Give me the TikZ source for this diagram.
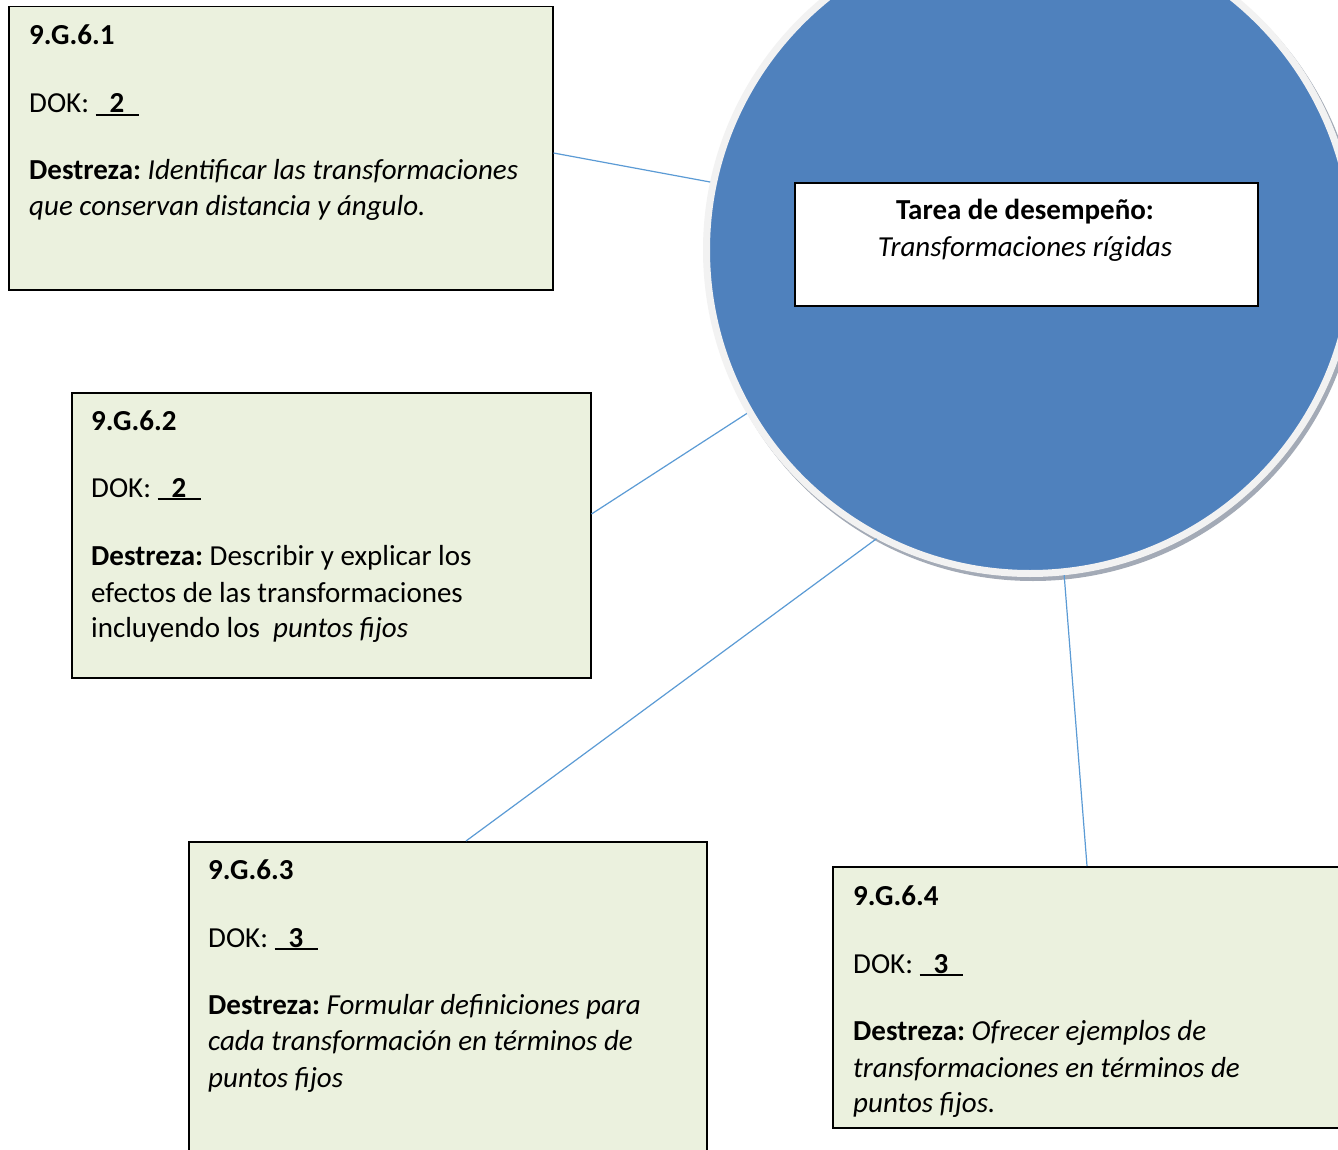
\documentclass[tikz,border=0pt]{standalone}
\usepackage{fontspec}
\setmainfont{Carlito}
\usetikzlibrary{calc}
\definecolor{boxfill}{HTML}{EBF1DE}
\definecolor{cblue}{HTML}{4F81BD}
\definecolor{ringcol}{HTML}{F2F2F2}
\definecolor{shadowgray}{HTML}{A3AAB6}
\definecolor{conncol}{HTML}{5B9BD5}
\newcommand\dokval[1]{\rlap{\rule[-3pt]{43pt}{2pt}}\hspace{14pt}\textbf{#1}\hspace{16pt}}
\frenchspacing
\begin{document}
\begin{tikzpicture}[x=1pt,y=-1pt,
  stdbox/.style={draw=black, line width=1.5pt, fill=boxfill, rectangle, inner sep=0pt, anchor=north west},
  txt/.style={anchor=base west, inner sep=0pt, font=\fontsize{29}{36}\selectfont\frenchspacing},
  ctxt/.style={anchor=base, inner sep=0pt, font=\fontsize{29}{36}\selectfont\frenchspacing},
  connline/.style={draw=conncol, line width=1.2pt}]
\clip (0,0) rectangle (1338,1150);
\fill[white] (0,0) rectangle (1338,1150);
% circle with shadow and light ring
\fill[shadowgray] (1033,254) circle[radius=327];
\node[circle, fill=cblue, draw=ringcol, line width=7pt, minimum size=647pt, inner sep=0pt] (c) at (1030,250) {};
% central rectangle
\node[draw=black, line width=2pt, fill=white, rectangle, inner sep=0pt, anchor=north west,
      minimum width=463pt, minimum height=123pt] (task) at (794,182) {};
\node[ctxt] (t1) at (1025,220) {\textbf{Tarea de desempeño:}};
\node[ctxt] (t2) at (1025,257) {\textit{Transformaciones rígidas}};
% boxes
\node[stdbox, minimum width=544pt, minimum height=283pt] (b1) at (8,6) {};
\node[stdbox, minimum width=519pt, minimum height=285pt] (b2) at (71,392) {};
\node[stdbox, minimum width=518pt, minimum height=330pt] (b3) at (188,841) {};
\node[stdbox, minimum width=520pt, minimum height=261pt] (b4) at (832,866) {};
% connectors
\draw[connline] ($(b1.north east)+(0,147)$) -- (c.168);
\draw[connline] ($(b2.north east)+(0,122)$) -- (c.210);
\draw[connline] ($(b3.north west)+(278,0)$) -- (c.242);
\draw[connline] ($(b4.north west)+(255,0)$) -- (c.276);
% box 1 text
\node[txt] (b1l1) at (29,45) {\textbf{9.G.6.1}};
\node[txt] (b1l2) at (29,113) {DOK: \dokval{2}};
\node[txt] (b1l3) at (29,180) {\textbf{Destreza:} \textit{Identificar las transformaciones}};
\node[txt] (b1l4) at (29,216) {\textit{que conservan distancia y ángulo.}};
% box 2 text
\node[txt] (b2l1) at (91,430) {\textbf{9.G.6.2}};
\node[txt] (b2l2) at (91,497) {DOK: \dokval{2}};
\node[txt] (b2l3) at (91,565) {\textbf{Destreza:} Describir y explicar los};
\node[txt] (b2l4) at (91,602) {efectos de las transformaciones};
\node[txt] (b2l5) at (91,637) {incluyendo los\ \ \textit{puntos fijos}};
% box 3 text
\node[txt] (b3l1) at (208,879) {\textbf{9.G.6.3}};
\node[txt] (b3l2) at (208,947) {DOK: \dokval{3}};
\node[txt] (b3l3) at (208,1014) {\textbf{Destreza:} \textit{Formular definiciones para}};
\node[txt] (b3l4) at (208,1050) {\textit{cada transformación en términos de}};
\node[txt] (b3l5) at (208,1087) {\textit{puntos fijos}};
% box 4 text
\node[txt] (b4l1) at (853,905) {\textbf{9.G.6.4}};
\node[txt] (b4l2) at (853,973) {DOK: \dokval{3}};
\node[txt] (b4l3) at (853,1040) {\textbf{Destreza:} \textit{Ofrecer ejemplos de}};
\node[txt] (b4l4) at (853,1077) {\textit{transformaciones en términos de}};
\node[txt] (b4l5) at (853,1112) {\textit{puntos fijos.}};
\end{tikzpicture}
\end{document}
